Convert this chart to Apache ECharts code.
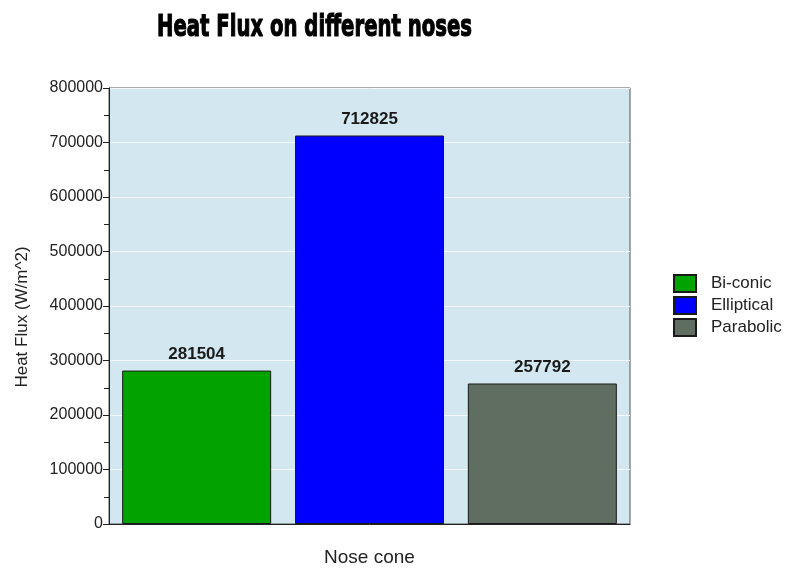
<!DOCTYPE html>
<html>
<head>
<meta charset="utf-8">
<script src="https://cdn.jsdelivr.net/npm/echarts@6/dist/echarts.min.js"></script>
<style>
  html, body { margin: 0; padding: 0; background: #ffffff; }
  #chart { width: 788px; height: 572px; }
</style>
</head>
<body>
<div id="chart"></div>
<script>
// Nose cone shapes and their peak heat flux (W/m^2)
const noseTypes = ['Bi-conic', 'Elliptical', 'Parabolic'];
const heatFlux = [281504, 712825, 257792];
const barColors = ['#00a300', '#0000ff', '#5f6e60'];
const yTicks = { min: 0, max: 800000, interval: 100000 };
const chartTitle = 'Heat Flux on different noses';

const chart = echarts.init(document.getElementById('chart'));

// Condensed heavy title: squeeze a bold face horizontally to a fixed width
const titleFont = 'bold 30px "DejaVu Sans", sans-serif';
const ctx = document.createElement('canvas').getContext('2d');
ctx.font = titleFont;
const titleScale = 315 / ctx.measureText(chartTitle).width;

const series = noseTypes.map((name, i) => ({
  name: name,
  type: 'bar',
  data: [heatFlux[i]],
  barWidth: 149,
  barGap: '16%',
  itemStyle: { color: barColors[i], borderColor: '#1a1a1a', borderWidth: 1 },
  label: {
    show: true,
    position: 'top',
    distance: 8,
    fontFamily: 'Liberation Sans, Arial, sans-serif',
    fontWeight: 'bold',
    fontSize: 17,
    color: '#1a1a1a'
  }
}));

chart.setOption({
  animation: false,
  graphic: [{
    type: 'text',
    x: 157,
    y: 13,
    scaleX: titleScale,
    style: {
      text: chartTitle,
      font: titleFont,
      fill: '#000000',
      stroke: '#000000',
      lineWidth: 1.2
    }
  }],
  legend: {
    orient: 'vertical',
    left: 673,
    top: 274,
    icon: 'rect',
    itemWidth: 22,
    itemHeight: 17,
    itemGap: 3,
    padding: 0,
    textStyle: {
      fontFamily: 'Liberation Sans, Arial, sans-serif',
      fontSize: 17,
      color: '#222222',
      padding: [0, 0, 0, 10]
    },
    data: noseTypes
  },
  grid: {
    left: 109,
    right: 158,
    top: 88,
    bottom: 46,
    show: true,
    backgroundColor: '#d2e7ef',
    borderColor: '#555555',
    borderWidth: 1
  },
  xAxis: {
    type: 'category',
    data: [''],
    name: 'Nose cone',
    nameLocation: 'middle',
    nameGap: 24,
    nameTextStyle: {
      fontFamily: 'Liberation Sans, Arial, sans-serif',
      fontSize: 19,
      color: '#222222'
    },
    axisLine: { show: true, lineStyle: { color: '#222222' } },
    axisTick: { show: false },
    axisLabel: { show: false },
    splitLine: { show: false }
  },
  yAxis: {
    type: 'value',
    min: yTicks.min,
    max: yTicks.max,
    interval: yTicks.interval,
    name: 'Heat Flux (W/m^2)',
    nameLocation: 'middle',
    nameGap: 78,
    nameTextStyle: {
      fontFamily: 'Liberation Sans, Arial, sans-serif',
      fontSize: 17,
      color: '#222222',
      padding: [0, 22, 0, 0]
    },
    axisLine: { show: true, lineStyle: { color: '#222222' } },
    axisTick: { show: true, length: 6, lineStyle: { color: '#222222' } },
    minorTick: { show: true, splitNumber: 2, length: 5, lineStyle: { color: '#222222' } },
    axisLabel: {
      fontFamily: 'Liberation Sans, Arial, sans-serif',
      fontSize: 16,
      color: '#222222',
      margin: 6,
      formatter: (v) => String(v)
    },
    splitLine: { show: true, lineStyle: { color: '#f4fafc', width: 1 } }
  },
  series: series
});
</script>
</body>
</html>
